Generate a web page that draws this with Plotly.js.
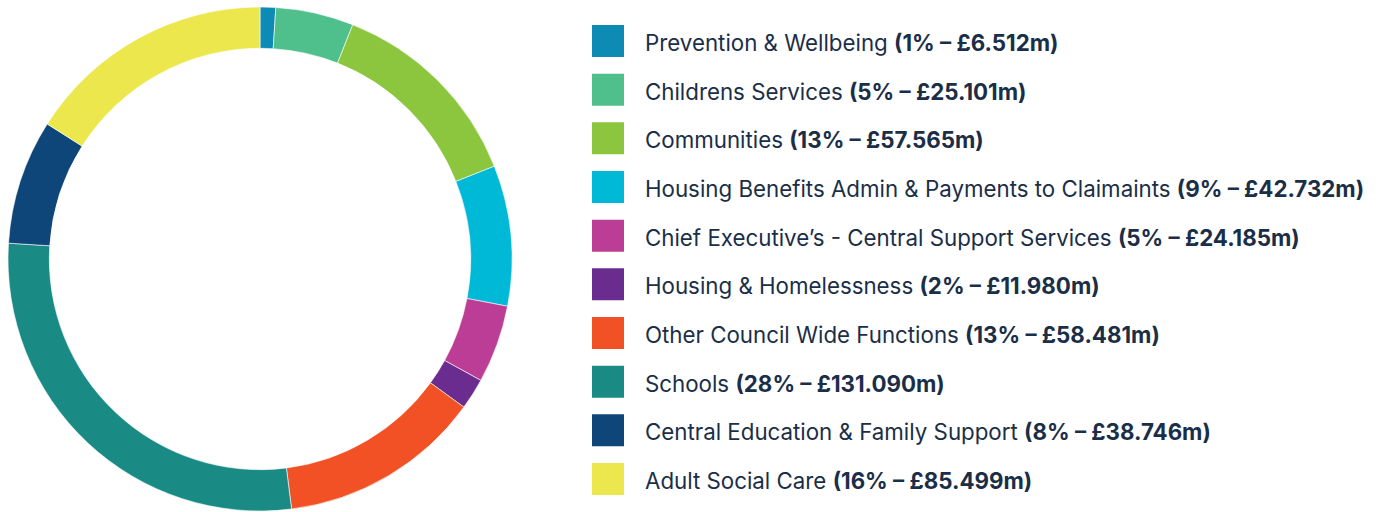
<!DOCTYPE html>
<html>
<head>
<meta charset="utf-8">
<script src="https://cdn.plot.ly/plotly-3.0.1.min.js"></script>
<style>
html,body{margin:0;padding:0;background:#fff;}
#chart{width:1386px;height:512px;}
</style>
</head>
<body>
<div id="chart"></div>
<script>
const categories = [
  "Prevention & Wellbeing",
  "Childrens Services",
  "Communities",
  "Housing Benefits Admin & Payments to Claimaints",
  "Chief Executive’s - Central Support Services",
  "Housing & Homelessness",
  "Other Council Wide Functions",
  "Schools",
  "Central Education & Family Support",
  "Adult Social Care"
];
const percents = [1, 5, 13, 9, 5, 2, 13, 28, 8, 16];
const amounts = ["6.512", "25.101", "57.565", "42.732", "24.185", "11.980", "58.481", "131.090", "38.746", "85.499"];
const colors = ["#0e8bb5", "#4fbf8c", "#8cc63f", "#00b9d6", "#bc3d96", "#6a2c8e", "#f15124", "#1a8a85", "#0f4679", "#ebe74d"];

const W = 1386, H = 512;
const textColor = "#1b2e48";
const fontFam = "Inter, Liberation Sans, Arial, sans-serif";

const trace = {
  type: "pie",
  values: percents,
  labels: categories,
  marker: {colors: colors, line: {color: "#ffffff", width: 0.6}},
  hole: 0.836,
  sort: false,
  direction: "clockwise",
  rotation: 0,
  textinfo: "none",
  hoverinfo: "label+percent",
  showlegend: false,
  domain: {x: [8 / W, 512 / W], y: [1 / H, 505 / H]}
};

const shapes = [];
const annotations = [];
const row0 = 41, rowStep = 48.67;
categories.forEach((c, i) => {
  const cy = row0 + i * rowStep;
  shapes.push({
    type: "rect", xref: "paper", yref: "paper",
    x0: 592 / W, x1: 624 / W,
    y0: (H - (cy + 16)) / H, y1: (H - (cy - 16)) / H,
    fillcolor: colors[i], line: {width: 0}
  });
  annotations.push({
    xref: "paper", yref: "paper",
    x: 643 / W, y: (H - (cy + 1.5)) / H,
    xanchor: "left", yanchor: "middle",
    showarrow: false,
    text: c + " <b>(" + percents[i] + "% – £" + amounts[i] + "m)</b>",
    font: {family: fontFam, size: 22.3, color: textColor}
  });
});

const layout = {
  width: W, height: H,
  margin: {l: 0, r: 0, t: 0, b: 0},
  paper_bgcolor: "#ffffff",
  plot_bgcolor: "#ffffff",
  showlegend: false,
  shapes: shapes,
  annotations: annotations
};

Plotly.newPlot("chart", [trace], layout, {displayModeBar: false, staticPlot: true});
</script>
</body>
</html>
